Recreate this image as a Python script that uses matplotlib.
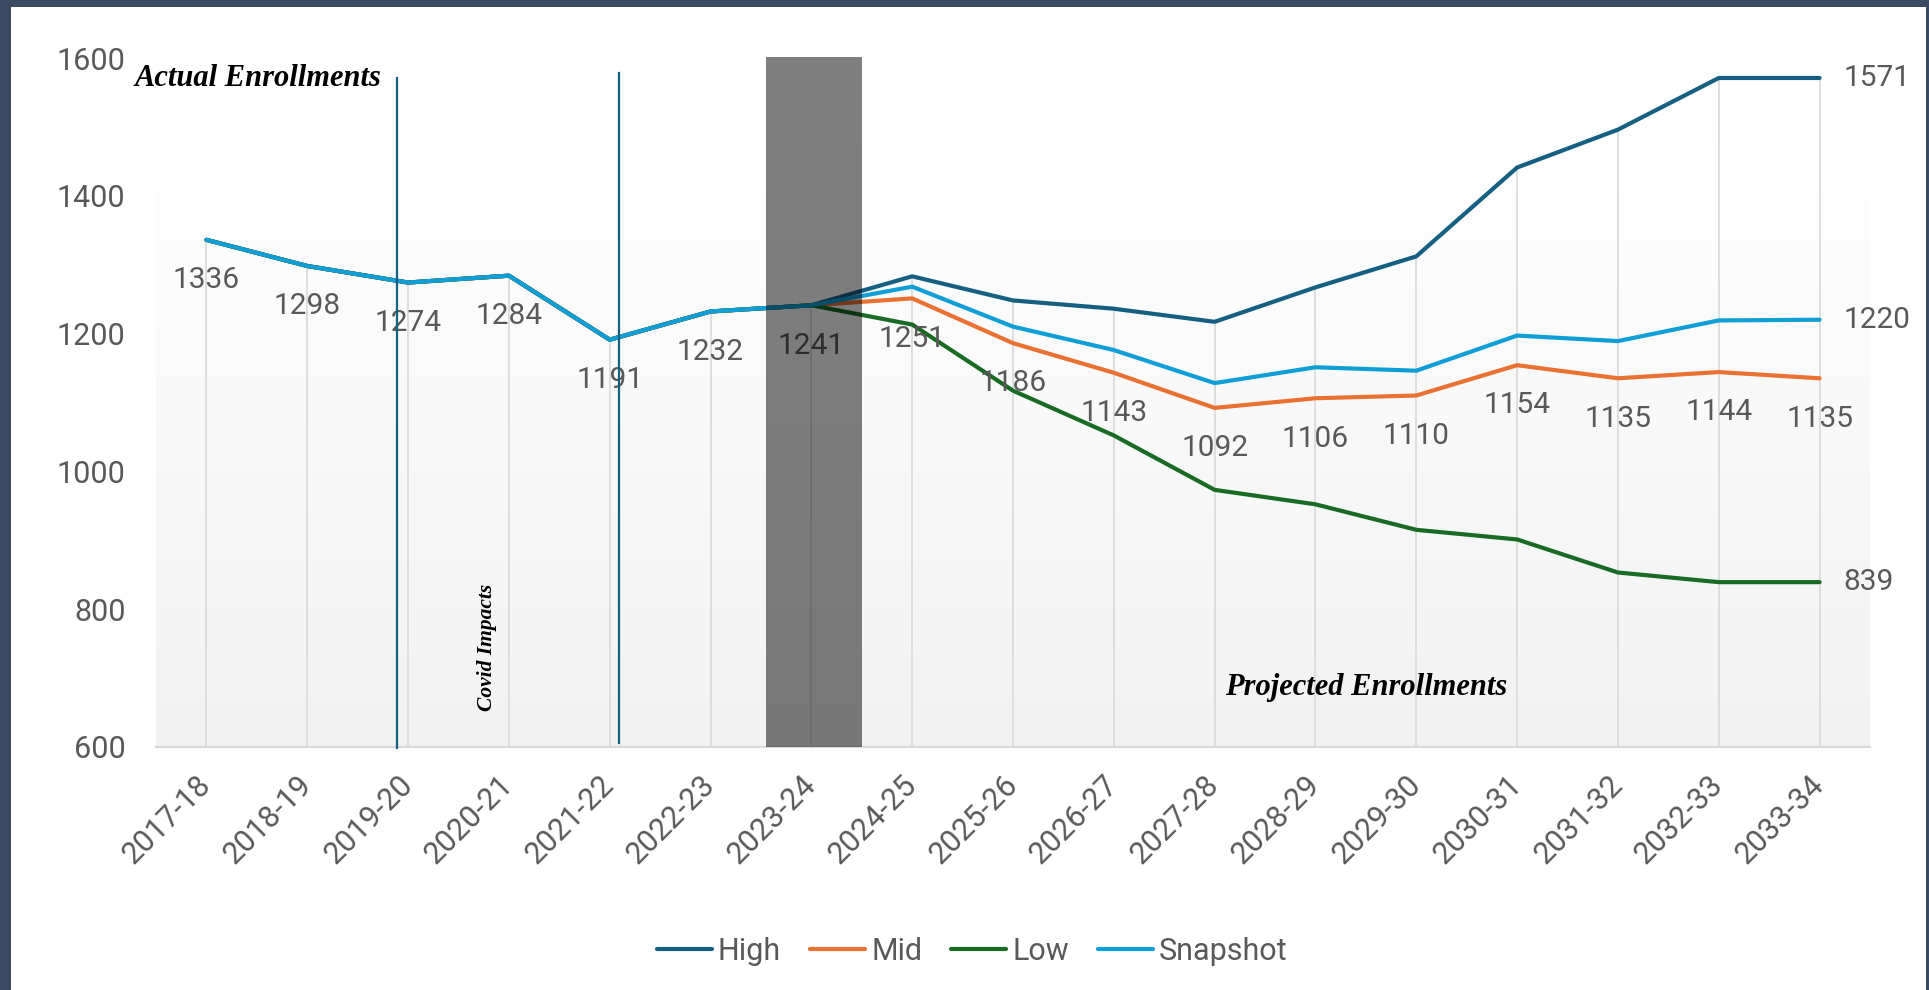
import matplotlib.pyplot as plt
import numpy as np
from matplotlib.patches import Rectangle

years = ["2017-18", "2018-19", "2019-20", "2020-21", "2021-22", "2022-23", "2023-24",
         "2024-25", "2025-26", "2026-27", "2027-28", "2028-29", "2029-30", "2030-31",
         "2031-32", "2032-33", "2033-34"]
actual = [1336, 1298, 1274, 1284, 1191, 1232, 1241]
high = actual + [1283, 1248, 1236, 1217, 1267, 1312, 1441, 1496, 1571, 1571]
mid = actual + [1251, 1186, 1143, 1092, 1106, 1110, 1154, 1135, 1144, 1135]
low = actual + [1213, 1117, 1052, 973, 952, 915, 901, 853, 839, 839]
snapshot = actual + [1268, 1210, 1176, 1128, 1151, 1146, 1197, 1189, 1219, 1220]

colors = {"High": "#156082", "Mid": "#E97132", "Low": "#196B24", "Snapshot": "#0F9ED5"}
txt_gray = "#595959"
plt.rcParams["font.family"] = ["Roboto", "DejaVu Sans"]

fig = plt.figure(figsize=(19.29, 9.9), dpi=100, facecolor="#3B4A63")
# white panel inside the dark frame
fig.patches.append(Rectangle((11 / 1929, 0), (1926 - 11) / 1929, (990 - 7) / 990,
                             transform=fig.transFigure, facecolor="white", edgecolor="none", zorder=-1))
ax = fig.add_axes([0.0809, 0.2457, 0.8885, 0.6957])
ax.set_facecolor("none")

x = np.arange(len(years))

# gradient plot background
grad = np.linspace(0.949, 1.0, 256).reshape(-1, 1)
ax.imshow(np.dstack([grad, grad, grad]), extent=(-0.5, 16.5, 600, 1470), origin="lower",
          aspect="auto", zorder=0)

# drop lines from the highest series down to the axis
tops = np.max([high, mid, low, snapshot], axis=0)
ax.vlines(x, 600, tops, color="#d9d9d9", lw=1.2, zorder=1)

for name, vals in [("High", high), ("Mid", mid), ("Low", low), ("Snapshot", snapshot)]:
    ax.plot(x, vals, color=colors[name], lw=3, label=name, zorder=3,
            solid_capstyle="round", solid_joinstyle="round")

for i, v in enumerate(mid):
    ax.annotate(str(v), (i, v), xytext=(0, -29), textcoords="offset points",
                ha="center", va="center", fontsize=21.5, color=txt_gray, zorder=4)
for vals in [high, snapshot, low]:
    ax.annotate(str(vals[-1]), (x[-1], vals[-1]), xytext=(17, 0), textcoords="offset points",
                ha="left", va="center", fontsize=21.5, color=txt_gray, zorder=4)

# covid markers
ax.plot([1.891, 1.891], [598, 1571], color="#156082", lw=1.6, zorder=5, clip_on=False)
ax.plot([4.09, 4.09], [605, 1578], color="#156082", lw=1.6, zorder=5, clip_on=False)

# current year shading
ax.add_patch(Rectangle((5.55, 600), 0.955, 1001, facecolor="black", alpha=0.5,
                       edgecolor="none", zorder=10, clip_on=False))

serif = ["Liberation Serif", "DejaVu Serif"]
ax.text(-0.71, 1570, "Actual Enrollments", family=serif, style="italic", weight="bold",
        fontsize=22, ha="left", va="center", zorder=6)
ax.text(11.5, 686, "Projected Enrollments", family=serif, style="italic", weight="bold",
        fontsize=22, ha="center", va="center", zorder=6)
ax.text(2.78, 744, "Covid Impacts", family=serif, style="italic", weight="bold",
        fontsize=15.5, rotation=90, ha="center", va="center", zorder=6)

ax.set_xlim(-0.5, 16.5)
ax.set_ylim(600, 1600)
ax.set_yticks([600, 800, 1000, 1200, 1400, 1600])
ax.set_xticks(x)
ax.set_xticklabels(years, rotation=45, ha="right", va="center", rotation_mode="anchor")
ax.tick_params(axis="x", length=0, pad=24, labelsize=22, labelcolor=txt_gray)
ax.tick_params(axis="y", length=0, pad=22, labelsize=22, labelcolor=txt_gray)
for s in ["top", "right", "left"]:
    ax.spines[s].set_visible(False)
ax.spines["bottom"].set_color("#d9d9d9")
ax.spines["bottom"].set_linewidth(1.5)

leg = fig.legend(loc="center", bbox_to_anchor=(0.504, 0.039), ncol=4, frameon=False,
                 fontsize=22, handlelength=1.8, handletextpad=0.2, columnspacing=0.95)
for t in leg.get_texts():
    t.set_color(txt_gray)

fig.savefig("out.png", dpi=100, facecolor=fig.get_facecolor())
